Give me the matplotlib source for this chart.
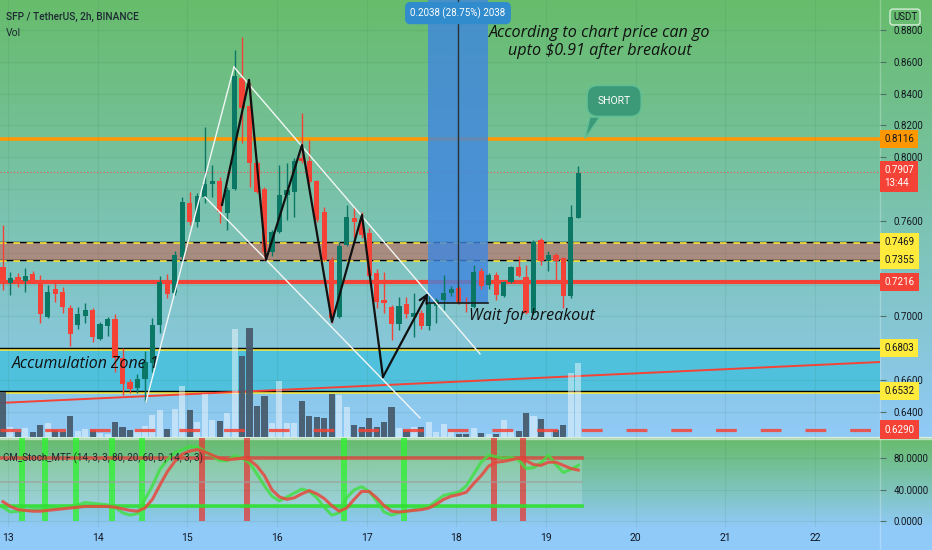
import numpy as np
import matplotlib.pyplot as plt
from matplotlib.colors import LinearSegmentedColormap
from matplotlib.patches import Rectangle, Polygon
from matplotlib.transforms import blended_transform_factory

plt.rcParams['font.family'] = ['Roboto', 'DejaVu Sans']

# SFP / USDT 2h candles, day-of-month on the time axis
first_bar = 12.944
bar_step = 1 / 12

opens = [0.7311, 0.7211, 0.7248, 0.7223, 0.7267, 0.7211, 0.6997, 0.7173, 0.7154, 0.7054,
         0.6947, 0.7003, 0.7041, 0.6859, 0.6941, 0.6985, 0.6740, 0.6589, 0.6551, 0.6608,
         0.6708, 0.6947, 0.7217, 0.7148, 0.7374, 0.7713, 0.7594, 0.7751, 0.7832, 0.7851,
         0.7650, 0.7801, 0.8498, 0.8322, 0.7964, 0.7801, 0.7405, 0.7531, 0.7763, 0.7782,
         0.7996, 0.7977, 0.7851, 0.7657, 0.7355, 0.6997, 0.7449, 0.7619, 0.7606, 0.7525,
         0.7274, 0.7104, 0.7060, 0.6953, 0.7079, 0.6997, 0.7022, 0.6941, 0.7066, 0.7104,
         0.7148, 0.7180, 0.7092, 0.7060, 0.7286, 0.7198, 0.7261, 0.7129, 0.7217, 0.7311,
         0.7248, 0.7022, 0.7481, 0.7349, 0.7387, 0.7368, 0.7129, 0.7619]
highs = [0.7575, 0.7280, 0.7274, 0.7305, 0.7286, 0.7261, 0.7198, 0.7211, 0.7186, 0.7073,
         0.7060, 0.7085, 0.7054, 0.6966, 0.6997, 0.7016, 0.6803, 0.6608, 0.6639, 0.6784,
         0.6991, 0.7255, 0.7267, 0.7412, 0.7751, 0.7782, 0.7776, 0.8190, 0.7952, 0.7877,
         0.7814, 0.8674, 0.8756, 0.8467, 0.7977, 0.7814, 0.7544, 0.7952, 0.7964, 0.7996,
         0.8278, 0.8109, 0.7858, 0.7688, 0.7374, 0.7468, 0.7701, 0.7688, 0.7657, 0.7556,
         0.7299, 0.7280, 0.7073, 0.7123, 0.7123, 0.7148, 0.7041, 0.7136, 0.7117, 0.7261,
         0.7192, 0.7192, 0.7123, 0.7324, 0.7305, 0.7274, 0.7280, 0.7223, 0.7318, 0.7380,
         0.7324, 0.7481, 0.7493, 0.7412, 0.7399, 0.7374, 0.7701, 0.7946]
lows = [0.7167, 0.7136, 0.7186, 0.7154, 0.7211, 0.6960, 0.6991, 0.7092, 0.7022, 0.6815,
        0.6922, 0.6960, 0.6840, 0.6853, 0.6878, 0.6652, 0.6507, 0.6520, 0.6520, 0.6463,
        0.6652, 0.6897, 0.7117, 0.7136, 0.7355, 0.7575, 0.7563, 0.7713, 0.7751, 0.7588,
        0.7544, 0.7795, 0.8090, 0.7814, 0.7776, 0.7355, 0.7380, 0.7525, 0.7606, 0.7625,
        0.7964, 0.7826, 0.7594, 0.7349, 0.6960, 0.6991, 0.7443, 0.7493, 0.7493, 0.7248,
        0.7054, 0.7022, 0.6853, 0.6916, 0.6991, 0.6872, 0.6922, 0.6916, 0.6960, 0.7041,
        0.7129, 0.7079, 0.7029, 0.7054, 0.7173, 0.7173, 0.7104, 0.7123, 0.7211, 0.7248,
        0.7016, 0.7010, 0.7324, 0.7286, 0.7230, 0.7054, 0.7117, 0.7619]
closes = [0.7211, 0.7242, 0.7217, 0.7255, 0.7223, 0.7016, 0.7154, 0.7142, 0.7060, 0.6891,
          0.7016, 0.7041, 0.6872, 0.6953, 0.6985, 0.6740, 0.6576, 0.6545, 0.6608, 0.6715,
          0.6947, 0.7217, 0.7142, 0.7387, 0.7719, 0.7594, 0.7757, 0.7832, 0.7851, 0.7657,
          0.7795, 0.8511, 0.8310, 0.7964, 0.7782, 0.7405, 0.7531, 0.7763, 0.7795, 0.7977,
          0.7977, 0.7845, 0.7606, 0.7355, 0.6991, 0.7443, 0.7625, 0.7594, 0.7512, 0.7255,
          0.7092, 0.7085, 0.6953, 0.7066, 0.7016, 0.7022, 0.6941, 0.7085, 0.7104, 0.7148,
          0.7173, 0.7085, 0.7085, 0.7280, 0.7192, 0.7261, 0.7136, 0.7217, 0.7311, 0.7255,
          0.7022, 0.7468, 0.7349, 0.7387, 0.7349, 0.7129, 0.7625, 0.7902]
volumes = [45, 10, 5, 9, 5, 12, 14, 7, 5, 21,
           6, 8, 7, 4, 3, 15, 10, 7, 8, 11,
           22, 27, 8, 28, 51, 27, 15, 43, 17, 16,
           24, 108, 81, 109, 31, 41, 14, 56, 14, 14,
           36, 21, 20, 19, 43, 42, 30, 12, 10, 19,
           10, 15, 30, 9, 7, 10, 10, 15, 5, 13,
           5, 3, 3, 9, 4, 3, 3, 17, 6, 6,
           24, 21, 18, 8, 7, 12, 64, 74]
vol_axis_top = 437

stoch_k = [18, 12, 13, 14, 15, 15, 16, 17, 18, 19,
           21, 24, 23, 22, 21, 18, 11, 8, 10, 28,
           45, 66, 78, 87, 91, 95, 94, 89, 83, 77,
           77, 83, 80, 74, 60, 45, 32, 26, 31, 36,
           41, 38, 30, 18, 8, 11, 30, 40, 44, 38,
           26, 12, 8, 11, 13, 15, 17, 19, 26, 33,
           35, 37, 45, 60, 75, 84, 82, 80, 81, 78,
           67, 68, 74, 84, 72, 62, 66, 71]
stoch_d = [25, 19, 15, 14, 13, 13, 14, 15, 16, 17,
           18, 19, 19, 19, 19, 18, 16, 14, 13, 17,
           28, 46, 63, 76, 85, 89, 91, 88, 84, 80,
           78, 79, 80, 78, 70, 58, 40, 31, 28, 30,
           35, 39, 35, 29, 20, 13, 17, 28, 38, 38,
           30, 20, 13, 12, 13, 14, 15, 17, 22, 28,
           32, 34, 37, 48, 58, 70, 75, 76, 78, 80,
           77, 72, 71, 75, 75, 71, 67, 65]
cross_up_days = [13.156, 13.413, 13.758, 14.160, 14.494, 16.747, 17.416]
cross_down_days = [15.164, 15.665, 18.420, 18.743]

# drawings (day, price)
white_up = ([14.539, 15.520], [0.6463, 0.8567])
white_down = ([15.520, 18.264], [0.8567, 0.6765])
white_low = ([15.197, 17.595], [0.7751, 0.6363])
zigzag_days = [15.387, 15.688, 15.877, 16.279, 16.613, 16.948, 17.182, 17.684]
zigzag_prices = [0.7701, 0.8486, 0.7355, 0.8077, 0.6966, 0.7638, 0.6620, 0.7148]
red_trend = ([12.911, 22.725], [0.6457, 0.6714])
range_days = (17.684, 18.353)
range_low = 0.7086
range_size = 0.2038
range_pct = 28.75

brown_zone = (0.7355, 0.7469)
accum_zone = (0.6532, 0.6803)
orange_level = 0.8116
red_level = 0.7216
dashed_level = 0.6290
last_price = 0.7907

day_ticks = list(range(13, 23))
price_ticks = np.arange(0.64, 0.8801, 0.02)

GREEN = '#0a7864'
RED = '#f44336'

times = first_bar + np.arange(len(opens)) * bar_step
opens = np.array(opens)
closes = np.array(closes)
up = closes >= opens

fig = plt.figure(figsize=(9.32, 5.5), dpi=100)

# background gradients (pixel coordinates)
bg = fig.add_axes([0, 0, 1, 1], zorder=-10)
bg.set_xlim(0, 932)
bg.set_ylim(550, 0)
bg.axis('off')
grad = LinearSegmentedColormap.from_list('g', ['#67bc6b', '#90caf7'])
ramp = np.linspace(0, 1, 256).reshape(-1, 1)
bg.imshow(ramp, cmap=grad, extent=[0, 932, 437, 0], aspect='auto')
bg.imshow(ramp, cmap=grad, extent=[0, 932, 527, 438], aspect='auto')
bg.add_patch(Rectangle((0, 527), 932, 23, color='#90caf9'))
bg.add_patch(Rectangle((0, 437), 932, 1.5, color='#cfe8d3', alpha=0.7))
bg.axvline(880, color='white', alpha=0.25, lw=1)

ax = fig.add_axes([0, 113 / 550, 880 / 932, 437 / 550], facecolor='none')
ax_st = fig.add_axes([0, 23 / 550, 880 / 932, 89 / 550], facecolor='none', sharex=ax)
x0, x1 = 12.911, 22.725
ax.set_xlim(x0, x1)
ax.set_ylim(0.6243, 0.8988)
ax_st.set_ylim(-7, 105.6)
for a in (ax, ax_st):
    for s in a.spines.values():
        s.set_visible(False)

# grid
ax.set_xticks(day_ticks)
ax.set_yticks(price_ticks)
ax.grid(True, color='#2f6f50', alpha=0.10, lw=0.8)
ax.tick_params(axis='x', length=0, labelbottom=False)
ax.yaxis.tick_right()
# labels at 0.68 / 0.72 / 0.74 / 0.78 sit under the price tags
covered = {'0.6800', '0.7200', '0.7400', '0.7800'}
ax.set_yticklabels(['' if f'{p:.4f}' in covered else f'{p:.4f}' for p in price_ticks])
ax.tick_params(axis='y', direction='out', length=4, width=0.8, pad=6, labelsize=7,
               colors='#4f6f66', labelcolor='#131722')

# zones
ax.add_patch(Rectangle((x0, brown_zone[0]), x1 - x0, brown_zone[1] - brown_zone[0],
                       fc='#a88c80', ec='none', zorder=1))
ax.axhline(brown_zone[1], color='black', lw=1, zorder=1.2)
ax.axhline(brown_zone[0], color='black', lw=1, zorder=1.2)
ax.axhline(brown_zone[1] - 0.0006, color='#ffeb3b', lw=1.2, ls=(0, (4, 4)), zorder=1.3)
ax.axhline(brown_zone[0] - 0.0006, color='#ffeb3b', lw=1.2, ls=(0, (4, 4)), zorder=1.3)

ax.add_patch(Rectangle((x0, accum_zone[0]), x1 - x0, accum_zone[1] - accum_zone[0],
                       fc='#4fc1dc', ec='none', zorder=1))
ax.axhline(accum_zone[1] - 0.0008, color='#ffeb3b', lw=1.8, zorder=1.2)
ax.axhline(accum_zone[0] - 0.0008, color='#ffeb3b', lw=1.8, zorder=1.2)
ax.axhline(accum_zone[1], color='black', lw=1, zorder=1.3)
ax.axhline(accum_zone[0], color='black', lw=1, zorder=1.3)

ax.axhline(orange_level, color='#ff9800', lw=2.6, zorder=1.5)
ax.axhline(red_level, color=RED, lw=3, zorder=1.5)
ax.axhline(last_price, color='#ef5350', lw=0.8, ls=(0, (1, 2)), zorder=1.5)
ax.plot(*red_trend, color=RED, lw=1.4, zorder=1.6)

# price range tool
ax.add_patch(Rectangle((range_days[0], range_low), range_days[1] - range_days[0], range_size,
                       fc='#3f86e0', ec='none', alpha=0.8, zorder=1.8))
mid_day = (range_days[0] + range_days[1]) / 2
ax.plot([mid_day, mid_day], [range_low, range_low + range_size], color='#263238', lw=1, zorder=4)
ax.plot(range_days, [range_low, range_low], color='#1b1b1b', lw=1.2, zorder=4)
ax.text(mid_day, 0.970, f'{range_size:.4f} ({range_pct:.2f}%) {int(round(range_size * 1e4))}',
        transform=blended_transform_factory(ax.transData, ax.transAxes),
        ha='center', va='center', fontsize=7, color='white', zorder=8,
        bbox=dict(boxstyle='round,pad=0.55', fc='#308ccc', ec='none'))

# volume
vol_trans = blended_transform_factory(ax.transData, ax.transAxes)
vol_frac = np.array(volumes) / vol_axis_top
ax.bar(times[up], vol_frac[up], width=0.068, bottom=0, transform=vol_trans,
       color='white', alpha=0.45, zorder=2)
ax.bar(times[~up], vol_frac[~up], width=0.068, bottom=0, transform=vol_trans,
       color='#46596b', alpha=0.92, zorder=2)
ax.axhline(dashed_level, color=RED, lw=2.3, ls=(0, (6.5, 7.5)), alpha=0.85, zorder=2.2)

# candles
colors = np.where(up, GREEN, RED)
ax.vlines(times, lows, highs, colors=colors, lw=1, zorder=3)
bodies = np.maximum(np.abs(closes - opens), 0.0007)
ax.bar(times, bodies, width=0.058, bottom=np.minimum(opens, closes), color=colors, zorder=3.1)

# drawings
ax.plot(*white_up, color='#f2f7f5', lw=1, zorder=4)
ax.plot(*white_down, color='#f2f7f5', lw=1, zorder=4)
ax.plot(*white_low, color='#f2f7f5', lw=1, zorder=4)
ax.plot(zigzag_days[:-1], zigzag_prices[:-1], color='#111111', lw=1.6, zorder=4.2)
ax.annotate('', xy=(zigzag_days[-1], zigzag_prices[-1]),
            xytext=(zigzag_days[-2], zigzag_prices[-2]),
            arrowprops=dict(arrowstyle='->', color='#111111', lw=1.6, mutation_scale=14,
                            shrinkA=0, shrinkB=0), zorder=4.2)

# texts
note_font = dict(family=['Open Sans', 'DejaVu Sans'], style='italic', color='#111111')
ax.text(19.60, 0.8722, 'According to chart price can go\nupto $0.91 after breakout',
        ha='center', va='center', fontsize=11.6, linespacing=1.15, zorder=6, **note_font)
ax.text(18.838, 0.7003, 'Wait for breakout', ha='center', va='center', fontsize=11.6,
        zorder=6, **note_font)
ax.text(13.045, 0.6702, 'Accumulation Zone 1', ha='left', va='center', fontsize=11.4,
        zorder=6, **note_font)

ax.add_patch(Polygon([(19.49, 0.8252), (19.435, 0.8118), (19.60, 0.8252)],
                     closed=True, fc='#3d9a78', ec='#5fbf95', lw=1, zorder=6))
ax.text(19.76, 0.8354, 'SHORT', ha='center', va='center', fontsize=7.5, color='white',
        zorder=6.5, bbox=dict(boxstyle='round,pad=1.0', fc='#3d9a78', ec='#5fbf95', lw=1))

ax.text(0.0068, 0.961, 'SFP / TetherUS, 2h, BINANCE', transform=ax.transAxes,
        fontsize=7.3, color='#1e2a33', fontweight='medium', va='center')
ax.text(0.0068, 0.9245, 'Vol', transform=ax.transAxes, fontsize=7.5,
        color='#1e2a33', va='center')

# price tags on the right scale
tags = [(orange_level, f'{orange_level:.4f}', '#ff9800', '#131722'),
        (brown_zone[1], f'{brown_zone[1]:.4f}', '#ffeb3b', '#131722'),
        (brown_zone[0], f'{brown_zone[0]:.4f}', '#ffeb3b', '#131722'),
        (red_level, f'{red_level:.4f}', RED, 'white'),
        (accum_zone[1], f'{accum_zone[1]:.4f}', '#ffeb3b', '#131722'),
        (accum_zone[0], f'{accum_zone[0]:.4f}', '#ffeb3b', '#131722'),
        (dashed_level, f'{dashed_level:.4f}', RED, 'white')]
ytr = ax.get_yaxis_transform()
for price, label, fc, tc in tags:
    ax.annotate(label, xy=(1, price), xycoords=ytr, xytext=(3.2, 0),
                textcoords='offset points', ha='left', va='center', fontsize=7, color=tc,
                annotation_clip=False, zorder=10,
                bbox=dict(boxstyle='square,pad=0.42', fc=fc, ec='none'))
ax.annotate(f'{last_price:.4f}\n13:44', xy=(1, last_price), xycoords=ytr, xytext=(3.2, 5),
            textcoords='offset points', ha='left', va='top', fontsize=7, color='white',
            linespacing=1.35, annotation_clip=False, zorder=10,
            bbox=dict(boxstyle='square,pad=0.42', fc=RED, ec='none'))
fig.text(905 / 932, 1 - 17 / 550, 'USDT', ha='center', va='center', fontsize=7,
         color='#131722', bbox=dict(boxstyle='round,pad=0.3', fc='none', ec='#d4ecd8', lw=1))

# stochastic pane
last_t = times[-1] + bar_step / 2
ax_st.fill_between([x0, last_t], 20, 80, color='white', alpha=0.18, lw=0, zorder=1)
ax_st.bar(cross_up_days, 105.6, width=0.07, bottom=0, color='#33f033', alpha=0.8, zorder=1.5)
ax_st.bar(cross_down_days, 105.6, width=0.07, bottom=0, color='#e53935', alpha=0.75, zorder=1.5)
ax_st.plot([x0, last_t], [80, 80], color='#e53935', lw=2.6, alpha=0.75, zorder=2)
ax_st.plot([x0, last_t], [20, 20], color='#2fe02f', lw=2.6, alpha=0.9, zorder=2)
ax_st.plot([x0, last_t], [50, 50], color='#9e9e9e', lw=1.4, alpha=0.6, zorder=2)
ax_st.plot(times, stoch_k, color='#3fe03f', lw=2.2, alpha=0.8, zorder=3)
ax_st.plot(times, stoch_d, color='#e8473d', lw=2.2, alpha=0.85, zorder=3.1)
ax_st.text(3 / 880, 0.775, 'CM_Stoch_MTF (14, 3, 3, 80, 20, 60, D, 14, 3, 3)',
           transform=ax_st.transAxes, fontsize=7, color='#1e2a33', va='center', zorder=5)

ax_st.yaxis.tick_right()
ax_st.set_yticks([0, 40, 80])
ax_st.set_yticklabels(['0.0000', '40.0000', '80.0000'])
ax_st.tick_params(axis='y', direction='out', length=4, width=0.8, pad=6, labelsize=7,
                  colors='#4f6f66', labelcolor='#131722')
ax_st.set_xticks(day_ticks)
ax_st.set_xticklabels([str(d) for d in day_ticks])
ax_st.tick_params(axis='x', length=0, pad=4, labelsize=7.5, labelcolor='#131722')
ax_st.grid(True, color='#2f6f50', alpha=0.10, lw=0.8)
ax.set_xlim(x0, x1)

fig.savefig('out.png', dpi=100)
